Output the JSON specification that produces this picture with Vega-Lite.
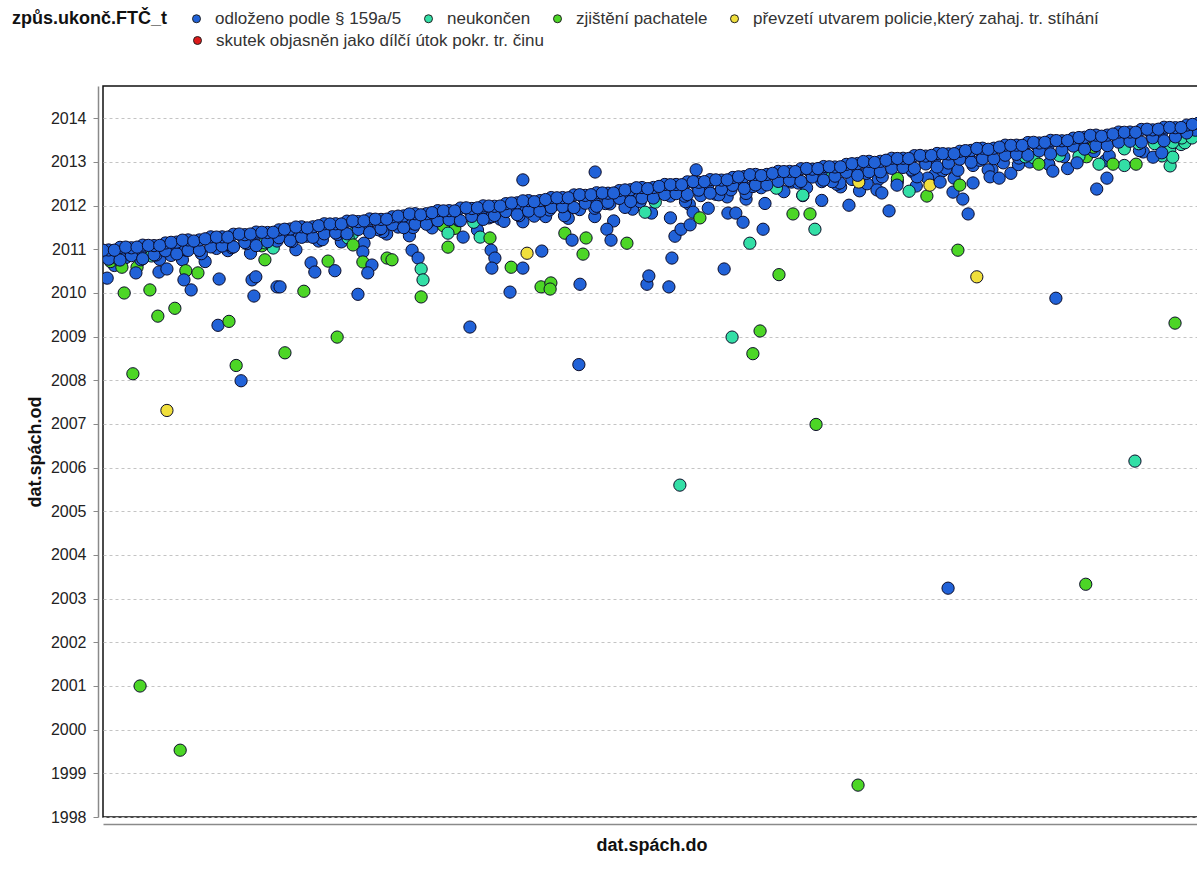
{
  "$schema": "https://vega.github.io/schema/vega-lite/v6.json",
  "width": 1097,
  "height": 731,
  "autosize": "none",
  "padding": {"left": 103, "top": 86, "right": 0, "bottom": 61},
  "background": "#ffffff",
  "config": {
    "view": {"stroke": "#111111", "strokeWidth": 1.5},
    "font": "Liberation Sans"
  },
  "datasets": {
    "kinds": [
      {"k": "a", "name": "odloženo podle § 159a/5"},
      {"k": "n", "name": "neukončen"},
      {"k": "z", "name": "zjištění pachatele"},
      {"k": "p", "name": "převzetí utvarem policie,který zahaj. tr. stíhání"},
      {"k": "r", "name": "skutek objasněn jako dílčí útok pokr. tr. činu"}
    ],
    "pts": [
      {"x":2011.03,"y":2010.63,"k":"a"},{"x":2011.09,"y":2010.59,"k":"z"},{"x":2011.15,"y":2010.77,"k":"a"},{"x":2011.21,"y":2010.76,"k":"a"},{"x":2011.27,"y":2010.72,"k":"a"},{"x":2011.33,"y":2010.97,"k":"a"},{"x":2011.39,"y":2010.91,"k":"a"},{"x":2011.45,"y":2011.03,"k":"n"},{"x":2011.51,"y":2010.99,"k":"a"},{"x":2011.57,"y":2011.19,"k":"a"},
      {"x":2011.63,"y":2011.17,"k":"a"},{"x":2011.69,"y":2011.14,"k":"a"},{"x":2011.75,"y":2011.35,"k":"a"},{"x":2011.81,"y":2011.31,"k":"a"},{"x":2011.87,"y":2011.49,"k":"a"},{"x":2011.93,"y":2011.48,"k":"z"},{"x":2011.99,"y":2011.44,"k":"a"},{"x":2012.05,"y":2011.69,"k":"a"},{"x":2012.11,"y":2011.63,"k":"a"},{"x":2012.17,"y":2011.75,"k":"a"},{"x":2012.23,"y":2011.71,"k":"a"},
      {"x":2012.30,"y":2011.75,"k":"a"},{"x":2012.35,"y":2011.65,"k":"a"},{"x":2012.40,"y":2011.92,"k":"a"},{"x":2012.45,"y":2011.83,"k":"a"},{"x":2012.50,"y":2011.72,"k":"a"},{"x":2012.55,"y":2012.03,"k":"a"},{"x":2012.60,"y":2011.94,"k":"a"},{"x":2012.65,"y":2012.20,"k":"a"},{"x":2012.70,"y":2012.15,"k":"a"},{"x":2012.75,"y":2012.05,"k":"a"},
      {"x":2012.80,"y":2012.32,"k":"a"},{"x":2012.85,"y":2012.23,"k":"a"},{"x":2012.90,"y":2012.12,"k":"a"},{"x":2012.95,"y":2012.43,"k":"a"},{"x":2013.00,"y":2012.34,"k":"a"},{"x":2013.05,"y":2012.60,"k":"a"},{"x":2013.10,"y":2012.55,"k":"a"},{"x":2013.15,"y":2012.45,"k":"a"},{"x":2013.20,"y":2012.72,"k":"a"},{"x":2013.25,"y":2012.63,"k":"a"},
      {"x":2013.30,"y":2012.52,"k":"a"},{"x":2013.35,"y":2012.83,"k":"a"},{"x":2013.40,"y":2012.74,"k":"a"},{"x":2013.45,"y":2013.00,"k":"a"},{"x":2013.50,"y":2012.95,"k":"a"},{"x":2013.55,"y":2012.85,"k":"a"},{"x":2013.60,"y":2013.12,"k":"z"},{"x":2013.65,"y":2013.03,"k":"a"},{"x":2013.70,"y":2012.92,"k":"n"},{"x":2013.75,"y":2013.23,"k":"a"},{"x":2013.80,"y":2013.14,"k":"n"},{"x":2013.85,"y":2013.40,"k":"n"},

      {"x":2011.02,"y":2010.72,"k":"z"},{"x":2011.06,"y":2010.81,"k":"a"},{"x":2011.10,"y":2010.76,"k":"a"},{"x":2011.14,"y":2010.87,"k":"a"},{"x":2011.18,"y":2010.86,"k":"a"},{"x":2011.22,"y":2010.98,"k":"a"},{"x":2011.26,"y":2010.90,"k":"a"},{"x":2011.30,"y":2011.02,"k":"a"},{"x":2011.34,"y":2011.04,"k":"a"},{"x":2011.38,"y":2011.13,"k":"a"},
      {"x":2011.42,"y":2011.08,"k":"z"},{"x":2011.46,"y":2011.19,"k":"a"},{"x":2011.50,"y":2011.18,"k":"a"},{"x":2011.54,"y":2011.30,"k":"a"},{"x":2011.58,"y":2011.22,"k":"a"},{"x":2011.62,"y":2011.34,"k":"a"},{"x":2011.66,"y":2011.36,"k":"n"},{"x":2011.70,"y":2011.45,"k":"a"},{"x":2011.74,"y":2011.40,"k":"a"},{"x":2011.78,"y":2011.51,"k":"a"},
      {"x":2011.82,"y":2011.50,"k":"a"},{"x":2011.86,"y":2011.62,"k":"a"},{"x":2011.90,"y":2011.54,"k":"z"},{"x":2011.94,"y":2011.66,"k":"n"},{"x":2011.98,"y":2011.62,"k":"n"},{"x":2012.02,"y":2011.72,"k":"a"},{"x":2012.06,"y":2011.64,"k":"a"},{"x":2012.10,"y":2011.77,"k":"a"},{"x":2012.14,"y":2011.76,"k":"a"},{"x":2012.18,"y":2011.90,"k":"a"},
      {"x":2012.22,"y":2011.77,"k":"a"},{"x":2012.26,"y":2011.91,"k":"a"},{"x":2012.30,"y":2011.94,"k":"a"},{"x":2012.34,"y":2012.04,"k":"a"},{"x":2012.38,"y":2011.96,"k":"a"},{"x":2012.42,"y":2012.09,"k":"a"},{"x":2012.46,"y":2012.08,"k":"n"},{"x":2012.50,"y":2012.22,"k":"a"},{"x":2012.54,"y":2012.09,"k":"a"},{"x":2012.58,"y":2012.23,"k":"a"},
      {"x":2012.62,"y":2012.26,"k":"a"},{"x":2012.66,"y":2012.36,"k":"a"},{"x":2012.70,"y":2012.28,"k":"a"},{"x":2012.74,"y":2012.41,"k":"a"},{"x":2012.78,"y":2012.40,"k":"n"},{"x":2012.82,"y":2012.54,"k":"a"},{"x":2012.86,"y":2012.41,"k":"a"},{"x":2012.90,"y":2012.55,"k":"a"},{"x":2012.94,"y":2012.49,"k":"a"},{"x":2012.98,"y":2012.60,"k":"a"},
      {"x":2013.02,"y":2012.50,"k":"a"},{"x":2013.06,"y":2012.66,"k":"a"},{"x":2013.10,"y":2012.62,"k":"z"},{"x":2013.14,"y":2012.78,"k":"a"},{"x":2013.18,"y":2012.63,"k":"a"},{"x":2013.22,"y":2012.80,"k":"a"},{"x":2013.26,"y":2012.81,"k":"a"},{"x":2013.30,"y":2012.92,"k":"a"},{"x":2013.34,"y":2012.82,"k":"a"},{"x":2013.38,"y":2012.98,"k":"a"},
      {"x":2013.42,"y":2012.94,"k":"a"},{"x":2013.46,"y":2013.10,"k":"n"},{"x":2013.50,"y":2012.95,"k":"a"},{"x":2013.54,"y":2013.12,"k":"a"},{"x":2013.58,"y":2013.13,"k":"n"},{"x":2013.62,"y":2013.24,"k":"a"},{"x":2013.66,"y":2013.14,"k":"a"},{"x":2013.70,"y":2013.30,"k":"n"},{"x":2013.74,"y":2013.26,"k":"a"},{"x":2013.78,"y":2013.42,"k":"n"},
      {"x":2013.82,"y":2013.27,"k":"n"},{"x":2013.86,"y":2013.44,"k":"n"},

      {"x":2011.011,"y":2010.34,"k":"a"},{"x":2011.050,"y":2010.59,"k":"z"},{"x":2011.056,"y":2010.00,"k":"z"},{"x":2011.087,"y":2010.46,"k":"a"},{"x":2011.079,"y":2008.15,"k":"z"},{"x":2011.098,"y":2001.00,"k":"z"},{"x":2011.124,"y":2010.07,"k":"z"},{"x":2011.145,"y":2009.47,"k":"z"},{"x":2011.148,"y":2010.48,"k":"a"},{"x":2011.169,"y":2010.55,"k":"a"},
      {"x":2011.169,"y":2007.31,"k":"p"},{"x":2011.190,"y":2009.65,"k":"z"},{"x":2011.204,"y":1999.53,"k":"z"},{"x":2011.219,"y":2010.51,"k":"z"},{"x":2011.214,"y":2010.30,"k":"a"},{"x":2011.233,"y":2010.07,"k":"a"},{"x":2011.251,"y":2010.46,"k":"z"},{"x":2011.307,"y":2010.32,"k":"a"},{"x":2011.304,"y":2009.26,"k":"a"},{"x":2011.333,"y":2009.35,"k":"z"},
      {"x":2011.352,"y":2008.34,"k":"z"},{"x":2011.365,"y":2007.99,"k":"a"},{"x":2011.394,"y":2010.30,"k":"a"},{"x":2011.404,"y":2010.37,"k":"a"},{"x":2011.399,"y":2009.93,"k":"a"},{"x":2011.428,"y":2010.76,"k":"z"},{"x":2011.460,"y":2010.14,"k":"a"},{"x":2011.468,"y":2010.14,"k":"a"},{"x":2011.481,"y":2008.63,"k":"z"},{"x":2011.531,"y":2010.04,"k":"z"},
      {"x":2011.550,"y":2010.69,"k":"a"},{"x":2011.560,"y":2010.48,"k":"a"},{"x":2011.595,"y":2010.73,"k":"z"},{"x":2011.613,"y":2010.51,"k":"a"},{"x":2011.619,"y":2008.99,"k":"z"},{"x":2011.648,"y":2011.26,"k":"n"},{"x":2011.661,"y":2011.10,"k":"z"},{"x":2011.687,"y":2010.94,"k":"a"},{"x":2011.687,"y":2010.71,"k":"z"},{"x":2011.711,"y":2010.64,"k":"a"},
      {"x":2011.700,"y":2010.46,"k":"a"},{"x":2011.674,"y":2009.97,"k":"a"},{"x":2011.751,"y":2010.80,"k":"z"},{"x":2011.764,"y":2010.76,"k":"z"},{"x":2011.817,"y":2010.98,"k":"a"},{"x":2011.833,"y":2010.80,"k":"a"},{"x":2011.841,"y":2010.55,"k":"n"},{"x":2011.846,"y":2010.30,"k":"n"},{"x":2011.841,"y":2009.91,"k":"z"},{"x":2011.912,"y":2011.05,"k":"z"},
      {"x":2011.912,"y":2011.37,"k":"n"},{"x":2011.970,"y":2009.22,"k":"a"},{"x":2011.952,"y":2011.28,"k":"a"},{"x":2011.997,"y":2011.28,"k":"n"},{"x":2012.023,"y":2011.26,"k":"z"},{"x":2012.026,"y":2010.98,"k":"a"},{"x":2012.036,"y":2010.80,"k":"a"},{"x":2012.028,"y":2010.57,"k":"a"},{"x":2012.076,"y":2010.02,"k":"a"},{"x":2012.079,"y":2010.59,"k":"z"},
      {"x":2012.110,"y":2010.57,"k":"a"},{"x":2012.110,"y":2012.59,"k":"a"},{"x":2012.121,"y":2010.91,"k":"p"},{"x":2012.160,"y":2010.96,"k":"a"},{"x":2012.158,"y":2010.14,"k":"z"},{"x":2012.184,"y":2010.23,"k":"z"},{"x":2012.182,"y":2010.09,"k":"z"},{"x":2012.261,"y":2010.20,"k":"a"},{"x":2012.258,"y":2008.36,"k":"a"},{"x":2012.221,"y":2011.37,"k":"z"},
      {"x":2012.240,"y":2011.21,"k":"a"},{"x":2012.277,"y":2011.26,"k":"z"},{"x":2012.269,"y":2010.89,"k":"z"},{"x":2012.301,"y":2012.77,"k":"a"},{"x":2012.332,"y":2011.46,"k":"a"},{"x":2012.343,"y":2011.21,"k":"a"},{"x":2012.385,"y":2011.14,"k":"z"},{"x":2012.433,"y":2011.85,"k":"n"},{"x":2012.438,"y":2010.20,"k":"a"},{"x":2012.443,"y":2010.39,"k":"a"},
      {"x":2012.496,"y":2010.14,"k":"a"},{"x":2012.504,"y":2010.80,"k":"a"},{"x":2012.512,"y":2011.30,"k":"a"},{"x":2012.528,"y":2011.46,"k":"a"},{"x":2012.525,"y":2005.60,"k":"n"},{"x":2012.552,"y":2011.56,"k":"a"},{"x":2012.560,"y":2011.85,"k":"a"},{"x":2012.578,"y":2011.72,"k":"z"},{"x":2012.568,"y":2012.82,"k":"a"},{"x":2012.642,"y":2010.55,"k":"a"},
      {"x":2012.652,"y":2011.83,"k":"a"},{"x":2012.673,"y":2011.83,"k":"a"},{"x":2012.692,"y":2011.62,"k":"a"},{"x":2012.710,"y":2011.14,"k":"n"},{"x":2012.663,"y":2008.99,"k":"n"},{"x":2012.718,"y":2008.61,"k":"z"},{"x":2012.737,"y":2009.13,"k":"z"},{"x":2012.745,"y":2011.46,"k":"a"},{"x":2012.787,"y":2010.42,"k":"z"},{"x":2012.824,"y":2011.81,"k":"z"},
      {"x":2012.869,"y":2011.81,"k":"z"},{"x":2012.882,"y":2011.46,"k":"n"},{"x":2012.850,"y":2012.24,"k":"n"},{"x":2012.885,"y":2006.99,"k":"z"},{"x":2012.972,"y":2012.01,"k":"a"},{"x":2012.996,"y":1998.73,"k":"z"},{"x":2012.998,"y":2012.54,"k":"p"},{"x":2013.046,"y":2012.36,"k":"a"},{"x":2013.059,"y":2012.29,"k":"a"},{"x":2013.078,"y":2011.88,"k":"a"},
      {"x":2013.131,"y":2012.33,"k":"n"},{"x":2013.178,"y":2012.22,"k":"z"},{"x":2013.186,"y":2012.47,"k":"p"},{"x":2013.234,"y":2003.24,"k":"a"},{"x":2013.247,"y":2012.31,"k":"a"},{"x":2013.273,"y":2012.15,"k":"a"},{"x":2013.287,"y":2011.81,"k":"a"},{"x":2013.265,"y":2012.47,"k":"z"},{"x":2013.260,"y":2010.98,"k":"z"},{"x":2013.310,"y":2010.37,"k":"p"},
      {"x":2013.345,"y":2012.66,"k":"a"},{"x":2013.369,"y":2012.63,"k":"a"},{"x":2013.474,"y":2012.95,"k":"z"},{"x":2013.511,"y":2012.79,"k":"a"},{"x":2013.519,"y":2009.88,"k":"a"},{"x":2013.575,"y":2012.98,"k":"a"},{"x":2013.598,"y":2003.33,"k":"z"},{"x":2013.627,"y":2012.38,"k":"a"},{"x":2013.654,"y":2012.63,"k":"a"},{"x":2013.633,"y":2012.95,"k":"n"},
      {"x":2013.728,"y":2006.15,"k":"n"},{"x":2013.731,"y":2012.95,"k":"z"},{"x":2013.821,"y":2012.91,"k":"n"},{"x":2013.828,"y":2013.11,"k":"n"},{"x":2013.834,"y":2009.31,"k":"z"},{"x":2013.852,"y":2013.55,"k":"n"},{"x":2013.879,"y":2013.55,"k":"n"},{"x":2012.948,"y":2012.52,"k":"a"},{"x":2012.914,"y":2012.63,"k":"n"},{"x":2013.099,"y":2012.47,"k":"a"},
      {"x":2013.152,"y":2012.66,"k":"a"},{"x":2013.213,"y":2012.54,"k":"a"},{"x":2013.421,"y":2013.09,"k":"a"},{"x":2013.670,"y":2012.95,"k":"z"},{"x":2013.776,"y":2013.11,"k":"a"},{"x":2013.799,"y":2013.21,"k":"a"},

      {"x":2011.008,"y":2010.918,"k":"a"},{"x":2011.038,"y":2010.788,"k":"z"},{"x":2011.068,"y":2010.998,"k":"a"},{"x":2011.098,"y":2010.988,"k":"a"},{"x":2011.128,"y":2010.848,"k":"n"},{"x":2011.158,"y":2011.078,"k":"a"},{"x":2011.188,"y":2011.068,"k":"a"},{"x":2011.218,"y":2010.998,"k":"a"},{"x":2011.248,"y":2011.148,"k":"a"},{"x":2011.278,"y":2011.218,"k":"a"},
      {"x":2011.308,"y":2011.218,"k":"a"},{"x":2011.338,"y":2011.088,"k":"a"},{"x":2011.368,"y":2011.298,"k":"a"},{"x":2011.398,"y":2011.288,"k":"a"},{"x":2011.428,"y":2011.148,"k":"n"},{"x":2011.458,"y":2011.378,"k":"a"},{"x":2011.488,"y":2011.368,"k":"a"},{"x":2011.518,"y":2011.298,"k":"a"},{"x":2011.548,"y":2011.448,"k":"a"},{"x":2011.578,"y":2011.518,"k":"a"},
      {"x":2011.608,"y":2011.518,"k":"a"},{"x":2011.638,"y":2011.388,"k":"a"},{"x":2011.668,"y":2011.598,"k":"a"},{"x":2011.698,"y":2011.588,"k":"a"},{"x":2011.728,"y":2011.448,"k":"a"},{"x":2011.758,"y":2011.678,"k":"a"},{"x":2011.788,"y":2011.668,"k":"a"},{"x":2011.818,"y":2011.598,"k":"a"},{"x":2011.848,"y":2011.748,"k":"a"},{"x":2011.878,"y":2011.818,"k":"a"},
      {"x":2011.908,"y":2011.818,"k":"a"},{"x":2011.938,"y":2011.688,"k":"a"},{"x":2011.968,"y":2011.898,"k":"a"},{"x":2011.998,"y":2011.888,"k":"a"},{"x":2012.028,"y":2011.748,"k":"a"},{"x":2012.058,"y":2011.978,"k":"a"},{"x":2012.088,"y":2011.968,"k":"a"},{"x":2012.118,"y":2011.898,"k":"a"},{"x":2012.148,"y":2012.048,"k":"a"},{"x":2012.178,"y":2012.118,"k":"a"},
      {"x":2012.208,"y":2012.118,"k":"a"},{"x":2012.238,"y":2011.988,"k":"a"},{"x":2012.268,"y":2012.198,"k":"a"},{"x":2012.298,"y":2012.188,"k":"a"},{"x":2012.328,"y":2012.048,"k":"a"},{"x":2012.358,"y":2012.278,"k":"a"},{"x":2012.388,"y":2012.268,"k":"a"},{"x":2012.418,"y":2012.198,"k":"a"},{"x":2012.448,"y":2012.328,"k":"a"},{"x":2012.478,"y":2012.408,"k":"a"},
      {"x":2012.508,"y":2012.408,"k":"a"},{"x":2012.538,"y":2012.218,"k":"a"},{"x":2012.568,"y":2012.488,"k":"a"},{"x":2012.598,"y":2012.458,"k":"a"},{"x":2012.628,"y":2012.248,"k":"a"},{"x":2012.658,"y":2012.568,"k":"a"},{"x":2012.688,"y":2012.528,"k":"a"},{"x":2012.718,"y":2012.438,"k":"a"},{"x":2012.748,"y":2012.628,"k":"a"},{"x":2012.778,"y":2012.708,"k":"a"},
      {"x":2012.808,"y":2012.708,"k":"a"},{"x":2012.838,"y":2012.518,"k":"a"},{"x":2012.868,"y":2012.788,"k":"a"},{"x":2012.898,"y":2012.758,"k":"a"},{"x":2012.928,"y":2012.548,"k":"a"},{"x":2012.958,"y":2012.868,"k":"a"},{"x":2012.988,"y":2012.828,"k":"a"},{"x":2013.018,"y":2012.738,"k":"a"},{"x":2013.048,"y":2012.928,"k":"a"},{"x":2013.078,"y":2013.008,"k":"a"},
      {"x":2013.108,"y":2013.008,"k":"a"},{"x":2013.138,"y":2012.818,"k":"a"},{"x":2013.168,"y":2013.088,"k":"a"},{"x":2013.198,"y":2013.058,"k":"a"},{"x":2013.228,"y":2012.848,"k":"a"},{"x":2013.258,"y":2013.168,"k":"a"},{"x":2013.288,"y":2013.128,"k":"a"},{"x":2013.318,"y":2013.038,"k":"a"},{"x":2013.348,"y":2013.228,"k":"a"},{"x":2013.378,"y":2013.308,"k":"a"},
      {"x":2013.408,"y":2013.308,"k":"a"},{"x":2013.438,"y":2013.118,"k":"n"},{"x":2013.468,"y":2013.388,"k":"a"},{"x":2013.498,"y":2013.358,"k":"a"},{"x":2013.528,"y":2013.148,"k":"n"},{"x":2013.558,"y":2013.468,"k":"a"},{"x":2013.588,"y":2013.428,"k":"a"},{"x":2013.618,"y":2013.338,"k":"z"},{"x":2013.648,"y":2013.528,"k":"a"},{"x":2013.678,"y":2013.608,"k":"a"},
      {"x":2013.708,"y":2013.608,"k":"a"},{"x":2013.738,"y":2013.418,"k":"n"},{"x":2013.768,"y":2013.688,"k":"a"},{"x":2013.798,"y":2013.658,"k":"a"},{"x":2013.828,"y":2013.448,"k":"n"},{"x":2013.858,"y":2013.768,"k":"a"},{"x":2013.888,"y":2013.728,"k":"a"},

      {"x":2011.015,"y":2010.775,"k":"a"},{"x":2011.045,"y":2010.755,"k":"a"},{"x":2011.075,"y":2010.855,"k":"a"},{"x":2011.105,"y":2010.785,"k":"a"},{"x":2011.135,"y":2010.875,"k":"a"},{"x":2011.165,"y":2010.965,"k":"a"},{"x":2011.195,"y":2010.895,"k":"a"},{"x":2011.225,"y":2010.975,"k":"a"},{"x":2011.255,"y":2010.975,"k":"a"},{"x":2011.285,"y":2011.055,"k":"a"},
      {"x":2011.315,"y":2011.075,"k":"a"},{"x":2011.345,"y":2011.055,"k":"a"},{"x":2011.375,"y":2011.155,"k":"a"},{"x":2011.405,"y":2011.085,"k":"a"},{"x":2011.435,"y":2011.175,"k":"a"},{"x":2011.465,"y":2011.265,"k":"a"},{"x":2011.495,"y":2011.195,"k":"a"},{"x":2011.525,"y":2011.275,"k":"a"},{"x":2011.555,"y":2011.275,"k":"a"},{"x":2011.585,"y":2011.355,"k":"a"},
      {"x":2011.615,"y":2011.375,"k":"a"},{"x":2011.645,"y":2011.355,"k":"a"},{"x":2011.675,"y":2011.455,"k":"a"},{"x":2011.705,"y":2011.385,"k":"a"},{"x":2011.735,"y":2011.475,"k":"a"},{"x":2011.765,"y":2011.565,"k":"a"},{"x":2011.795,"y":2011.495,"k":"a"},{"x":2011.825,"y":2011.575,"k":"a"},{"x":2011.855,"y":2011.575,"k":"a"},{"x":2011.885,"y":2011.655,"k":"a"},
      {"x":2011.915,"y":2011.675,"k":"a"},{"x":2011.945,"y":2011.655,"k":"a"},{"x":2011.975,"y":2011.755,"k":"a"},{"x":2012.005,"y":2011.685,"k":"a"},{"x":2012.035,"y":2011.775,"k":"a"},{"x":2012.065,"y":2011.865,"k":"a"},{"x":2012.095,"y":2011.795,"k":"a"},{"x":2012.125,"y":2011.875,"k":"a"},{"x":2012.155,"y":2011.875,"k":"a"},{"x":2012.185,"y":2011.955,"k":"a"},
      {"x":2012.215,"y":2011.975,"k":"a"},{"x":2012.245,"y":2011.955,"k":"a"},{"x":2012.275,"y":2012.055,"k":"a"},{"x":2012.305,"y":2011.985,"k":"a"},{"x":2012.335,"y":2012.075,"k":"a"},{"x":2012.365,"y":2012.165,"k":"a"},{"x":2012.395,"y":2012.095,"k":"a"},{"x":2012.425,"y":2012.175,"k":"a"},{"x":2012.455,"y":2012.175,"k":"a"},{"x":2012.485,"y":2012.255,"k":"a"},
      {"x":2012.515,"y":2012.275,"k":"a"},{"x":2012.545,"y":2012.255,"k":"a"},{"x":2012.575,"y":2012.355,"k":"a"},{"x":2012.605,"y":2012.285,"k":"a"},{"x":2012.635,"y":2012.375,"k":"a"},{"x":2012.665,"y":2012.465,"k":"a"},{"x":2012.695,"y":2012.395,"k":"a"},{"x":2012.725,"y":2012.475,"k":"a"},{"x":2012.755,"y":2012.475,"k":"a"},{"x":2012.785,"y":2012.555,"k":"a"},
      {"x":2012.815,"y":2012.575,"k":"a"},{"x":2012.845,"y":2012.555,"k":"a"},{"x":2012.875,"y":2012.655,"k":"a"},{"x":2012.905,"y":2012.585,"k":"a"},{"x":2012.935,"y":2012.675,"k":"a"},{"x":2012.965,"y":2012.765,"k":"a"},{"x":2012.995,"y":2012.695,"k":"a"},{"x":2013.025,"y":2012.775,"k":"a"},{"x":2013.055,"y":2012.775,"k":"a"},{"x":2013.085,"y":2012.855,"k":"a"},
      {"x":2013.115,"y":2012.875,"k":"a"},{"x":2013.145,"y":2012.855,"k":"a"},{"x":2013.175,"y":2012.955,"k":"a"},{"x":2013.205,"y":2012.885,"k":"a"},{"x":2013.235,"y":2012.975,"k":"a"},{"x":2013.265,"y":2013.065,"k":"a"},{"x":2013.295,"y":2012.995,"k":"a"},{"x":2013.325,"y":2013.075,"k":"a"},{"x":2013.355,"y":2013.075,"k":"a"},{"x":2013.385,"y":2013.155,"k":"a"},
      {"x":2013.415,"y":2013.175,"k":"a"},{"x":2013.445,"y":2013.155,"k":"a"},{"x":2013.475,"y":2013.255,"k":"a"},{"x":2013.505,"y":2013.185,"k":"a"},{"x":2013.535,"y":2013.275,"k":"a"},{"x":2013.565,"y":2013.365,"k":"a"},{"x":2013.595,"y":2013.295,"k":"a"},{"x":2013.625,"y":2013.375,"k":"a"},{"x":2013.655,"y":2013.375,"k":"a"},{"x":2013.685,"y":2013.455,"k":"a"},
      {"x":2013.715,"y":2013.475,"k":"a"},{"x":2013.745,"y":2013.455,"k":"a"},{"x":2013.775,"y":2013.555,"k":"a"},{"x":2013.805,"y":2013.485,"k":"a"},{"x":2013.835,"y":2013.575,"k":"a"},{"x":2013.865,"y":2013.665,"k":"a"},

      {"x":2011.015,"y":2010.985,"k":"a"},{"x":2011.045,"y":2011.045,"k":"a"},{"x":2011.075,"y":2011.035,"k":"a"},{"x":2011.105,"y":2011.095,"k":"a"},{"x":2011.135,"y":2011.085,"k":"a"},{"x":2011.165,"y":2011.145,"k":"a"},{"x":2011.195,"y":2011.165,"k":"a"},{"x":2011.225,"y":2011.215,"k":"a"},{"x":2011.255,"y":2011.215,"k":"a"},{"x":2011.285,"y":2011.285,"k":"a"},
      {"x":2011.315,"y":2011.285,"k":"a"},{"x":2011.345,"y":2011.345,"k":"a"},{"x":2011.375,"y":2011.335,"k":"a"},{"x":2011.405,"y":2011.395,"k":"a"},{"x":2011.435,"y":2011.385,"k":"a"},{"x":2011.465,"y":2011.445,"k":"a"},{"x":2011.495,"y":2011.465,"k":"a"},{"x":2011.525,"y":2011.515,"k":"a"},{"x":2011.555,"y":2011.515,"k":"a"},{"x":2011.585,"y":2011.585,"k":"a"},
      {"x":2011.615,"y":2011.585,"k":"a"},{"x":2011.645,"y":2011.645,"k":"a"},{"x":2011.675,"y":2011.635,"k":"a"},{"x":2011.705,"y":2011.695,"k":"a"},{"x":2011.735,"y":2011.685,"k":"a"},{"x":2011.765,"y":2011.745,"k":"a"},{"x":2011.795,"y":2011.765,"k":"a"},{"x":2011.825,"y":2011.815,"k":"a"},{"x":2011.855,"y":2011.815,"k":"a"},{"x":2011.885,"y":2011.885,"k":"a"},
      {"x":2011.915,"y":2011.885,"k":"a"},{"x":2011.945,"y":2011.945,"k":"a"},{"x":2011.975,"y":2011.935,"k":"a"},{"x":2012.005,"y":2011.995,"k":"a"},{"x":2012.035,"y":2011.985,"k":"a"},{"x":2012.065,"y":2012.045,"k":"a"},{"x":2012.095,"y":2012.065,"k":"a"},{"x":2012.125,"y":2012.115,"k":"a"},{"x":2012.155,"y":2012.115,"k":"a"},{"x":2012.185,"y":2012.185,"k":"a"},
      {"x":2012.215,"y":2012.185,"k":"a"},{"x":2012.245,"y":2012.245,"k":"a"},{"x":2012.275,"y":2012.235,"k":"a"},{"x":2012.305,"y":2012.295,"k":"a"},{"x":2012.335,"y":2012.285,"k":"a"},{"x":2012.365,"y":2012.345,"k":"a"},{"x":2012.395,"y":2012.365,"k":"a"},{"x":2012.425,"y":2012.415,"k":"a"},{"x":2012.455,"y":2012.415,"k":"a"},{"x":2012.485,"y":2012.485,"k":"a"},
      {"x":2012.515,"y":2012.485,"k":"a"},{"x":2012.545,"y":2012.545,"k":"a"},{"x":2012.575,"y":2012.535,"k":"a"},{"x":2012.605,"y":2012.595,"k":"a"},{"x":2012.635,"y":2012.585,"k":"a"},{"x":2012.665,"y":2012.645,"k":"a"},{"x":2012.695,"y":2012.665,"k":"a"},{"x":2012.725,"y":2012.715,"k":"a"},{"x":2012.755,"y":2012.715,"k":"a"},{"x":2012.785,"y":2012.785,"k":"a"},
      {"x":2012.815,"y":2012.785,"k":"a"},{"x":2012.845,"y":2012.845,"k":"a"},{"x":2012.875,"y":2012.835,"k":"a"},{"x":2012.905,"y":2012.895,"k":"a"},{"x":2012.935,"y":2012.885,"k":"a"},{"x":2012.965,"y":2012.945,"k":"a"},{"x":2012.995,"y":2012.965,"k":"a"},{"x":2013.025,"y":2013.015,"k":"a"},{"x":2013.055,"y":2013.015,"k":"a"},{"x":2013.085,"y":2013.085,"k":"a"},
      {"x":2013.115,"y":2013.085,"k":"a"},{"x":2013.145,"y":2013.145,"k":"a"},{"x":2013.175,"y":2013.135,"k":"a"},{"x":2013.205,"y":2013.195,"k":"a"},{"x":2013.235,"y":2013.185,"k":"a"},{"x":2013.265,"y":2013.245,"k":"a"},{"x":2013.295,"y":2013.265,"k":"a"},{"x":2013.325,"y":2013.315,"k":"a"},{"x":2013.355,"y":2013.315,"k":"a"},{"x":2013.385,"y":2013.385,"k":"a"},
      {"x":2013.415,"y":2013.385,"k":"a"},{"x":2013.445,"y":2013.445,"k":"a"},{"x":2013.475,"y":2013.435,"k":"a"},{"x":2013.505,"y":2013.495,"k":"a"},{"x":2013.535,"y":2013.485,"k":"a"},{"x":2013.565,"y":2013.545,"k":"a"},{"x":2013.595,"y":2013.565,"k":"a"},{"x":2013.625,"y":2013.615,"k":"a"},{"x":2013.655,"y":2013.615,"k":"a"},{"x":2013.685,"y":2013.685,"k":"a"},
      {"x":2013.715,"y":2013.685,"k":"a"},{"x":2013.745,"y":2013.745,"k":"a"},{"x":2013.775,"y":2013.735,"k":"a"},{"x":2013.805,"y":2013.795,"k":"a"},{"x":2013.835,"y":2013.785,"k":"a"},{"x":2013.865,"y":2013.845,"k":"a"},{"x":2013.895,"y":2013.885,"k":"a"},

      {"x":2011.00,"y":2010.98,"k":"a"},{"x":2011.03,"y":2010.98,"k":"a"},{"x":2011.06,"y":2011.05,"k":"a"},{"x":2011.09,"y":2011.05,"k":"a"},{"x":2011.12,"y":2011.09,"k":"a"},{"x":2011.15,"y":2011.09,"k":"a"},{"x":2011.18,"y":2011.16,"k":"a"},{"x":2011.21,"y":2011.21,"k":"a"},{"x":2011.24,"y":2011.19,"k":"a"},{"x":2011.27,"y":2011.24,"k":"a"},
      {"x":2011.30,"y":2011.28,"k":"a"},{"x":2011.33,"y":2011.28,"k":"a"},{"x":2011.36,"y":2011.35,"k":"a"},{"x":2011.39,"y":2011.35,"k":"a"},{"x":2011.42,"y":2011.39,"k":"a"},{"x":2011.45,"y":2011.39,"k":"a"},{"x":2011.48,"y":2011.46,"k":"a"},{"x":2011.51,"y":2011.51,"k":"a"},{"x":2011.54,"y":2011.49,"k":"a"},{"x":2011.57,"y":2011.54,"k":"a"},
      {"x":2011.60,"y":2011.58,"k":"a"},{"x":2011.63,"y":2011.58,"k":"a"},{"x":2011.66,"y":2011.65,"k":"a"},{"x":2011.69,"y":2011.65,"k":"a"},{"x":2011.72,"y":2011.69,"k":"a"},{"x":2011.75,"y":2011.69,"k":"a"},{"x":2011.78,"y":2011.76,"k":"a"},{"x":2011.81,"y":2011.81,"k":"a"},{"x":2011.84,"y":2011.79,"k":"a"},{"x":2011.87,"y":2011.84,"k":"a"},
      {"x":2011.90,"y":2011.88,"k":"a"},{"x":2011.93,"y":2011.88,"k":"a"},{"x":2011.96,"y":2011.95,"k":"a"},{"x":2011.99,"y":2011.95,"k":"a"},{"x":2012.02,"y":2011.99,"k":"a"},{"x":2012.05,"y":2011.99,"k":"a"},{"x":2012.08,"y":2012.06,"k":"a"},{"x":2012.11,"y":2012.11,"k":"a"},{"x":2012.14,"y":2012.09,"k":"a"},{"x":2012.17,"y":2012.14,"k":"a"},
      {"x":2012.20,"y":2012.18,"k":"a"},{"x":2012.23,"y":2012.18,"k":"a"},{"x":2012.26,"y":2012.25,"k":"a"},{"x":2012.29,"y":2012.25,"k":"a"},{"x":2012.32,"y":2012.29,"k":"a"},{"x":2012.35,"y":2012.29,"k":"a"},{"x":2012.38,"y":2012.36,"k":"a"},{"x":2012.41,"y":2012.41,"k":"a"},{"x":2012.44,"y":2012.39,"k":"a"},{"x":2012.47,"y":2012.44,"k":"a"},
      {"x":2012.50,"y":2012.48,"k":"a"},{"x":2012.53,"y":2012.48,"k":"a"},{"x":2012.56,"y":2012.55,"k":"a"},{"x":2012.59,"y":2012.55,"k":"a"},{"x":2012.62,"y":2012.59,"k":"a"},{"x":2012.65,"y":2012.59,"k":"a"},{"x":2012.68,"y":2012.66,"k":"a"},{"x":2012.71,"y":2012.71,"k":"a"},{"x":2012.74,"y":2012.69,"k":"a"},{"x":2012.77,"y":2012.74,"k":"a"},
      {"x":2012.80,"y":2012.78,"k":"a"},{"x":2012.83,"y":2012.78,"k":"a"},{"x":2012.86,"y":2012.85,"k":"a"},{"x":2012.89,"y":2012.85,"k":"a"},{"x":2012.92,"y":2012.89,"k":"a"},{"x":2012.95,"y":2012.89,"k":"a"},{"x":2012.98,"y":2012.96,"k":"a"},{"x":2013.01,"y":2013.01,"k":"a"},{"x":2013.04,"y":2012.99,"k":"a"},{"x":2013.07,"y":2013.04,"k":"a"},
      {"x":2013.10,"y":2013.08,"k":"a"},{"x":2013.13,"y":2013.08,"k":"a"},{"x":2013.16,"y":2013.15,"k":"a"},{"x":2013.19,"y":2013.15,"k":"a"},{"x":2013.22,"y":2013.19,"k":"a"},{"x":2013.25,"y":2013.19,"k":"a"},{"x":2013.28,"y":2013.26,"k":"a"},{"x":2013.31,"y":2013.31,"k":"a"},{"x":2013.34,"y":2013.29,"k":"a"},{"x":2013.37,"y":2013.34,"k":"a"},
      {"x":2013.40,"y":2013.38,"k":"a"},{"x":2013.43,"y":2013.38,"k":"a"},{"x":2013.46,"y":2013.45,"k":"a"},{"x":2013.49,"y":2013.45,"k":"a"},{"x":2013.52,"y":2013.49,"k":"a"},{"x":2013.55,"y":2013.49,"k":"a"},{"x":2013.58,"y":2013.56,"k":"a"},{"x":2013.61,"y":2013.61,"k":"a"},{"x":2013.64,"y":2013.59,"k":"a"},{"x":2013.67,"y":2013.64,"k":"a"},
      {"x":2013.70,"y":2013.68,"k":"a"},{"x":2013.73,"y":2013.68,"k":"a"},{"x":2013.76,"y":2013.75,"k":"a"},{"x":2013.79,"y":2013.75,"k":"a"},{"x":2013.82,"y":2013.79,"k":"a"},{"x":2013.85,"y":2013.79,"k":"a"},{"x":2013.88,"y":2013.86,"k":"a"}
    ]
  },
  "data": {"name": "pts"},
  "transform": [
    {"lookup": "k", "from": {"data": {"name": "kinds"}, "key": "k", "fields": ["name"]}}
  ],
  "encoding": {
    "x": {
      "field": "x", "type": "quantitative",
      "scale": {"domain": [2011.0, 2013.9], "nice": false, "zero": false},
      "axis": {
        "title": "dat.spách.do", "labels": false, "ticks": false, "grid": false,
        "domainColor": "#8a8a8a", "domainWidth": 1.5, "offset": 7,
        "titleFont": "Liberation Sans", "titleFontSize": 18, "titleFontWeight": "bold", "titleColor": "#111111", "titlePadding": 12
      }
    },
    "y": {
      "field": "y", "type": "quantitative",
      "scale": {"domain": [1998, 2014.74], "nice": false, "zero": false},
      "axis": {
        "title": "dat.spách.od",
        "values": [1998,1999,2000,2001,2002,2003,2004,2005,2006,2007,2008,2009,2010,2011,2012,2013,2014],
        "format": "d",
        "grid": true, "gridDash": [3, 3], "gridColor": "#c4c4c4", "gridWidth": 1,
        "domainColor": "#8a8a8a", "domainWidth": 1.5, "tickColor": "#8a8a8a", "tickSize": 5, "offset": 5,
        "labelFont": "Liberation Sans", "labelFontSize": 16, "labelColor": "#222222", "labelPadding": 7,
        "titleFont": "Liberation Sans", "titleFontSize": 18, "titleFontWeight": "bold", "titleColor": "#111111", "titlePadding": 6
      }
    }
  },
  "layer": [
    {
      "mark": {"type": "point", "filled": true, "shape": "circle", "size": 150, "stroke": "#0c0c28", "strokeWidth": 1, "opacity": 1, "clip": true},
      "encoding": {
        "color": {
          "field": "name", "type": "nominal",
          "scale": {
            "domain": ["odloženo podle § 159a/5", "neukončen", "zjištění pachatele", "převzetí utvarem policie,který zahaj. tr. stíhání"],
            "range": ["#2162d8", "#33dfa6", "#4cd626", "#f0df3c"]
          },
          "legend": {
            "orient": "none", "legendX": -91, "legendY": -76,
            "direction": "horizontal", "columnPadding": 18,
            "title": "způs.ukonč.FTČ_t", "titleOrient": "left", "titleAnchor": "start", "titleBaseline": "top",
            "titleFont": "Liberation Sans", "titleFontSize": 18, "titleFontWeight": "bold", "titleColor": "#111111", "titlePadding": 20,
            "labelFont": "Liberation Sans", "labelFontSize": 17, "labelColor": "#333333", "labelOffset": 10, "labelLimit": 400,
            "symbolType": "circle", "symbolSize": 64, "symbolStrokeColor": "#222222", "symbolStrokeWidth": 1, "symbolOpacity": 1
          }
        }
      }
    },
    {
      "transform": [{"filter": "datum.k == 'r'"}],
      "mark": {"type": "point", "filled": true, "shape": "circle", "size": 150, "stroke": "#0c0c28", "strokeWidth": 1, "opacity": 1, "clip": true},
      "encoding": {
        "color": {
          "field": "name", "type": "nominal",
          "scale": {
            "domain": ["skutek objasněn jako dílčí útok pokr. tr. činu"],
            "range": ["#dd1a1a"]
          },
          "legend": {
            "orient": "none", "legendX": 86, "legendY": -54,
            "direction": "horizontal", "title": null,
            "labelFont": "Liberation Sans", "labelFontSize": 17, "labelColor": "#333333", "labelOffset": 10, "labelLimit": 500,
            "symbolType": "circle", "symbolSize": 64, "symbolStrokeColor": "#222222", "symbolStrokeWidth": 1, "symbolOpacity": 1
          }
        }
      }
    }
  ],
  "resolve": {"scale": {"color": "independent"}, "legend": {"color": "independent"}}
}
